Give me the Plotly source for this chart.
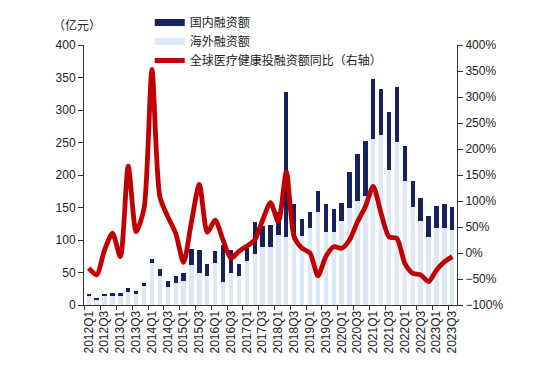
import plotly.graph_objects as go

quarters = [f"{y}Q{q}" for y in range(2012, 2024) for q in range(1, 5)][:47]

overseas = [15, 8, 14, 15, 14, 20, 18, 30, 65, 45, 28, 34, 37, 61, 49, 45, 65, 36, 50, 45,
            67, 78, 90, 90, 108, 105, 110, 106, 118, 143, 113, 113, 129, 150, 160, 167,
            255, 262, 208, 251, 191, 151, 129, 104, 119, 119, 116]
domestic = [2, 2, 2, 3, 4, 6, 3, 4, 6, 11, 9, 10, 13, 25, 35, 18, 18, 57, 35, 18,
            20, 50, 32, 33, 35, 222, 46, 27, 25, 33, 42, 34, 28, 54, 73, 85,
            93, 70, 89, 85, 53, 40, 36, 33, 33, 36, 35]
yoy = [-29, -42, 6, 38, -7, 167, 41, 86, 353, 108, 70, 38, -18, 60, 132, 40, 63, 25, -10, 3,
       13, 25, 63, 97, 60, 156, 31, 9, 0, -44, -7, 12, 9, 25, 60, 89,
       128, 76, 31, 28, -20, -39, -42, -55, -33, -17, -7]

NAVY = "#15225e"
LIGHT = "#dce8f6"
RED = "#c00000"

fig = go.Figure()
fig.add_trace(go.Bar(x=quarters, y=overseas, marker_color=LIGHT, marker_line_width=0,
                     showlegend=False, name="海外融资额"))
fig.add_trace(go.Bar(x=quarters, y=domestic, marker_color=NAVY, marker_line_width=0,
                     showlegend=False, name="国内融资额"))
fig.add_trace(go.Scatter(x=quarters, y=yoy, yaxis="y2", mode="lines",
                         line=dict(color=RED, width=4.8, shape="spline", smoothing=0.7),
                         showlegend=False, name="全球医疗健康投融资额同比（右轴）"))

# legend entries
fig.add_trace(go.Scatter(x=[None], y=[None], mode="lines", line=dict(color=NAVY, width=7),
                         name="国内融资额"))
fig.add_trace(go.Scatter(x=[None], y=[None], mode="lines", line=dict(color=LIGHT, width=7),
                         name="海外融资额"))
fig.add_trace(go.Scatter(x=[None], y=[None], mode="lines", line=dict(color=RED, width=5),
                         name="全球医疗健康投融资额同比（右轴）"))

tick_font = dict(family="Liberation Sans, Arial", size=12, color="#222")

fig.update_layout(
    width=541, height=366,
    margin=dict(l=76, r=92, t=37, b=69, autoexpand=False),
    paper_bgcolor="white", plot_bgcolor="white",
    barmode="stack", bargap=0.45,
    font=dict(family="Noto Sans CJK SC", size=12, color="#222"),
    legend=dict(x=0.262, y=1.01, xref="container", yref="container", xanchor="left", yanchor="top",
                traceorder="normal",
                bgcolor="rgba(0,0,0,0)", font=dict(family="Noto Sans CJK SC", size=12, color="#222"),
                tracegroupgap=0, itemwidth=30),
    xaxis=dict(type="category", tickangle=-90, dtick=2, tickson="boundaries",
               ticks="outside", ticklen=4, tickcolor="#333", automargin=False,
               showline=True, linecolor="#333", linewidth=1, showgrid=False,
               tickfont=dict(family="Liberation Sans, Arial", size=12, color="#222"),
               range=[-0.6, 46.6]),
    yaxis=dict(range=[0, 400], dtick=50, showgrid=False, zeroline=False, automargin=False,
               showline=True, linecolor="#333", linewidth=1,
               ticks="outside", ticklen=5, tickcolor="#333", tickfont=tick_font),
    yaxis2=dict(range=[-100, 400], dtick=50, overlaying="y", side="right",
                showgrid=False, zeroline=False, ticksuffix="%", automargin=False,
                showline=True, linecolor="#333", linewidth=1,
                ticks="outside", ticklen=5, tickcolor="#333", tickfont=tick_font),
    annotations=[dict(text="（亿元）", x=-0.019, y=1.077, xref="paper", yref="paper",
                      xanchor="center", yanchor="middle", showarrow=False,
                      font=dict(family="Noto Sans CJK SC", size=12, color="#222"))],
)

fig.write_html("out.html")
